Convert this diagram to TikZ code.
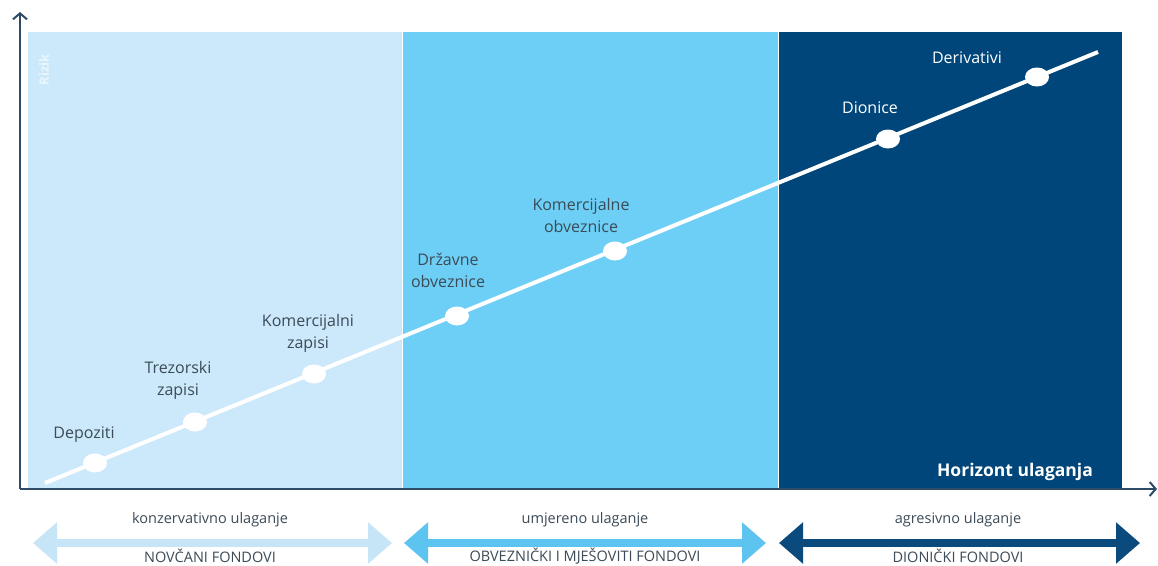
\documentclass[tikz,border=0pt]{standalone}
\usepackage{fontspec}
\setmainfont{Open Sans}
\usetikzlibrary{arrows.meta,shapes.geometric}
\definecolor{lightp}{HTML}{CBE9FA}
\definecolor{midp}{HTML}{6DCFF6}
\definecolor{darkp}{HTML}{00467A}
\definecolor{axisc}{HTML}{2E4A64}
\definecolor{txt}{HTML}{3C4B57}
\definecolor{arrl}{HTML}{C6E6F8}
\definecolor{arrm}{HTML}{5CC4EE}
\definecolor{arrd}{HTML}{0B4A7C}
\tikzset{
  dot/.style={ellipse,fill=white,minimum width=24pt,minimum height=19pt,inner sep=0pt},
  lbl/.style={text=txt,font=\fontsize{16}{22}\selectfont,align=center},
  lblw/.style={text=white,font=\fontsize{16}{22}\selectfont,align=center},
  btxt/.style={text=txt,font=\fontsize{14.5}{17}\selectfont,inner sep=1pt},
  band/.style={line width=8pt,-{Triangle[length=24pt,width=40pt]}},
}
\begin{document}
\begin{tikzpicture}[x=1pt,y=-1pt]
\useasboundingbox[fill=white] (0,0) rectangle (1158,565);
% panels
\fill[lightp] (28,32) rectangle (402,488);
\fill[midp] (402,32) rectangle (778,488);
\fill[darkp] (778,32) rectangle (1122,488);
\draw[white,line width=1pt] (402,32) -- (402,488);
\draw[white,line width=1pt] (778,32) -- (778,488);
% axes
\coordinate (o) at (20,489);
\coordinate (ytop) at (20,12);
\coordinate (xend) at (1157,489);
\draw[axisc,line width=2pt,-{Straight Barb[length=6pt,width=14pt]}] (o) -- (ytop);
\draw[axisc,line width=2pt,-{Straight Barb[length=6pt,width=14pt]}] (o) -- (xend);
\node[rotate=90,text=white,opacity=0.6,font=\bfseries\fontsize{13}{15}\selectfont] (rizik) at (44,70) {Rizik};
\node[text=white,font=\bfseries\fontsize{17.5}{20}\selectfont] (hor) at (1015,472) {Horizont ulaganja};
% risk line
\coordinate (ls) at (45,483);
\coordinate (le) at (1098,52);
\draw[white,line width=4pt] (ls) -- (le);
\node[dot] (d1) at (95,463) {};
\node[dot] (d2) at (195,422) {};
\node[dot] (d3) at (314,374) {};
\node[dot] (d4) at (457,316) {};
\node[dot] (d5) at (615,251) {};
\node[dot] (d6) at (888,139) {};
\node[dot] (d7) at (1037,77) {};
\node[lbl] (t1) at (84,435) {Depoziti};
\node[lbl] (t2) at (178,380) {Trezorski\\zapisi};
\node[lbl] (t3) at (308,333) {Komercijalni\\zapisi};
\node[lbl] (t4) at (448,270) {Državne\\obveznice};
\node[lbl] (t5) at (581,215) {Komercijalne\\obveznice};
\node[lblw] (t6) at (870,108) {Dionice};
\node[lblw] (t7) at (967,58) {Derivativi};
% bottom arrows
\coordinate (a1l) at (33,543);
\coordinate (a1r) at (392,543);
\coordinate (a2l) at (404,543);
\coordinate (a2r) at (766,543);
\coordinate (a3l) at (779,543);
\coordinate (a3r) at (1140,543);
\draw[arrl,band] (210,543) -- (a1l);
\draw[arrl,band] (210,543) -- (a1r);
\draw[arrm,band] (585,543) -- (a2l);
\draw[arrm,band] (585,543) -- (a2r);
\draw[arrd,band] (960,543) -- (a3l);
\draw[arrd,band] (960,543) -- (a3r);
\node[btxt] (b1) at (210,520) {konzervativno ulaganje};
\node[btxt] (c1) at (210,556) {NOVČANI FONDOVI};
\node[btxt] (b2) at (585,520) {umjereno ulaganje};
\node[btxt] (c2) at (585,556) {OBVEZNIČKI I MJEŠOVITI FONDOVI};
\node[btxt] (b3) at (958,520) {agresivno ulaganje};
\node[btxt] (c3) at (958,556) {DIONIČKI FONDOVI};
\end{tikzpicture}
\end{document}
